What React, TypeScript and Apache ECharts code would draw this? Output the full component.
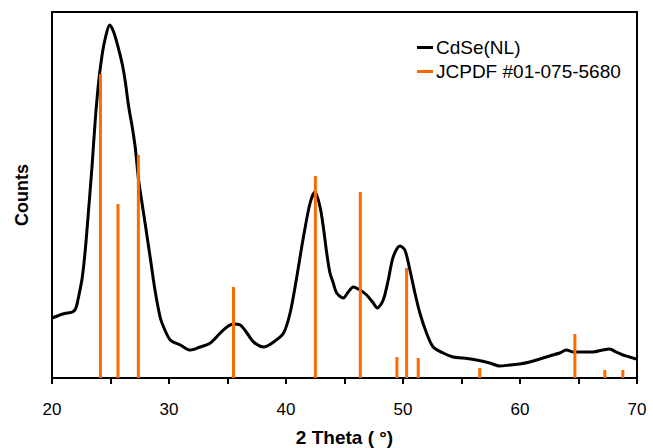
import React, { useEffect, useRef } from "react";
import * as echarts from "echarts";

// Measured XRD pattern of CdSe(NL): [2θ (°), counts]
const cdseTheta: number[] = [
  20.0, 20.47, 20.9, 21.32, 21.75, 22.01, 22.18, 22.58, 22.86, 23.14, 23.43, 23.71, 23.99, 24.28, 24.56, 24.93,
  25.27, 25.67, 26.02, 26.27, 26.53, 26.87, 27.12, 27.38, 27.72, 27.98, 28.4, 28.83, 29.26, 29.54, 30.11, 30.97,
  31.82, 32.67, 33.53, 34.38, 34.95, 35.51, 36.09, 36.66, 37.23, 38.08, 38.94, 39.79, 40.35, 40.92, 41.49, 42.06,
  42.48, 42.91, 43.19, 43.48, 43.76, 44.04, 44.33, 44.9, 45.32, 45.75, 46.32, 46.89, 47.46, 47.8, 48.31, 48.74,
  49.16, 49.74, 50.16, 50.59, 51.02, 51.44, 52.01, 52.58, 53.43, 54.28, 55.14, 56.28, 57.41, 58.27, 59.12, 59.97,
  60.83, 61.68, 62.53, 63.39, 63.96, 64.52, 65.38, 66.23, 67.08, 67.65, 68.22, 68.79, 69.36, 69.93,
];
const cdseCounts: number[] = [
  600, 620, 640, 650, 660, 690, 760, 1000, 1300, 1700, 2130, 2600, 2960, 3230, 3400, 3530,
  3460, 3300, 3130, 2960, 2730, 2500, 2300, 2000, 1730, 1530, 1200, 860, 600, 510, 380, 330,
  280, 310, 350, 450, 510, 540, 530, 450, 360, 310, 360, 450, 650, 1010, 1410, 1750,
  1860, 1710, 1510, 1250, 1050, 950, 850, 800, 860, 910, 880, 830, 750, 700, 780, 980,
  1210, 1320, 1280, 1080, 850, 650, 450, 310, 250, 210, 200, 180, 150, 120, 130, 140,
  160, 190, 220, 250, 280, 260, 260, 260, 280, 290, 260, 230, 210, 190,
];

// JCPDF #01-075-5680 reference lines: [2θ (°), intensity]
const refTheta: number[] = [24.14, 25.64, 27.38, 35.51, 42.51, 46.35, 49.48, 50.31, 51.3, 56.56, 64.69, 67.25, 68.79];
const refIntensity: number[] = [3040, 1740, 2230, 910, 2020, 1860, 210, 1100, 200, 100, 440, 80, 80];

const xTicks = { min: 20, max: 70, interval: 5 };

const FONT = "'Liberation Sans', Arial, Helvetica, sans-serif";

export default function App() {
  const ref = useRef<HTMLDivElement>(null);

  useEffect(() => {
    if (!ref.current) return;
    const chart = echarts.init(ref.current, null, { renderer: "svg" });
    const lineData = cdseTheta.map((t, i) => [t, cdseCounts[i]]);
    const barData = refTheta.map((t, i) => [t, refIntensity[i]]);

    chart.setOption({
      animation: false,
      backgroundColor: "#fff",
      textStyle: { fontFamily: FONT },
      grid: {
        left: 52,
        right: 16,
        top: 12,
        bottom: 70,
        show: true,
        borderColor: "#000",
        borderWidth: 2,
        containLabel: false,
        outerBoundsMode: "none",
      },
      legend: {
        orient: "vertical",
        left: 412,
        top: 33,
        itemWidth: 16,
        itemHeight: 3,
        itemGap: 5,
        textStyle: { fontSize: 19, color: "#000", fontFamily: FONT, padding: [0, 0, 0, -2] },
        data: [
          { name: "CdSe(NL)", icon: "rect" },
          { name: "JCPDF #01-075-5680", icon: "rect" },
        ],
      },
      xAxis: {
        type: "value",
        min: xTicks.min,
        max: xTicks.max,
        interval: xTicks.interval,
        name: "2 Theta ( °)",
        nameLocation: "middle",
        nameGap: 50,
        nameTextStyle: { fontSize: 19, lineHeight: 19, fontWeight: "bold", color: "#000", fontFamily: FONT },
        axisLine: { show: true, lineStyle: { color: "#000", width: 2 } },
        axisTick: { show: true, inside: false, length: 6, lineStyle: { color: "#000", width: 2 } },
        axisLabel: {
          margin: 23,
          fontSize: 17,
          color: "#000",
          fontFamily: FONT,
          formatter: (v: number) => (v % 10 === 0 ? String(v) : ""),
        },
        splitLine: { show: false },
      },
      yAxis: {
        type: "value",
        min: 0,
        max: 3660,
        name: "Counts",
        nameLocation: "middle",
        nameGap: 21,
        nameTextStyle: { fontSize: 18, fontWeight: "bold", color: "#000", fontFamily: FONT },
        axisLine: { show: true, lineStyle: { color: "#000", width: 2 } },
        axisTick: { show: false },
        axisLabel: { show: false },
        splitLine: { show: false },
      },
      series: [
        {
          name: "CdSe(NL)",
          type: "line",
          data: lineData,
          symbol: "none",
          smooth: 0.3,
          color: "#000",
          lineStyle: { color: "#000", width: 3 },
          z: 2,
        },
        {
          name: "JCPDF #01-075-5680",
          type: "bar",
          data: barData,
          barWidth: 3,
          color: "#FF6A00",
          itemStyle: { color: "#FF6A00" },
          z: 3,
        },
      ],
    });
    return () => chart.dispose();
  }, []);

  return (
    <div
      ref={ref}
      style={{ position: "absolute", left: 0, top: 0, width: 653, height: 448 }}
    />
  );
}
